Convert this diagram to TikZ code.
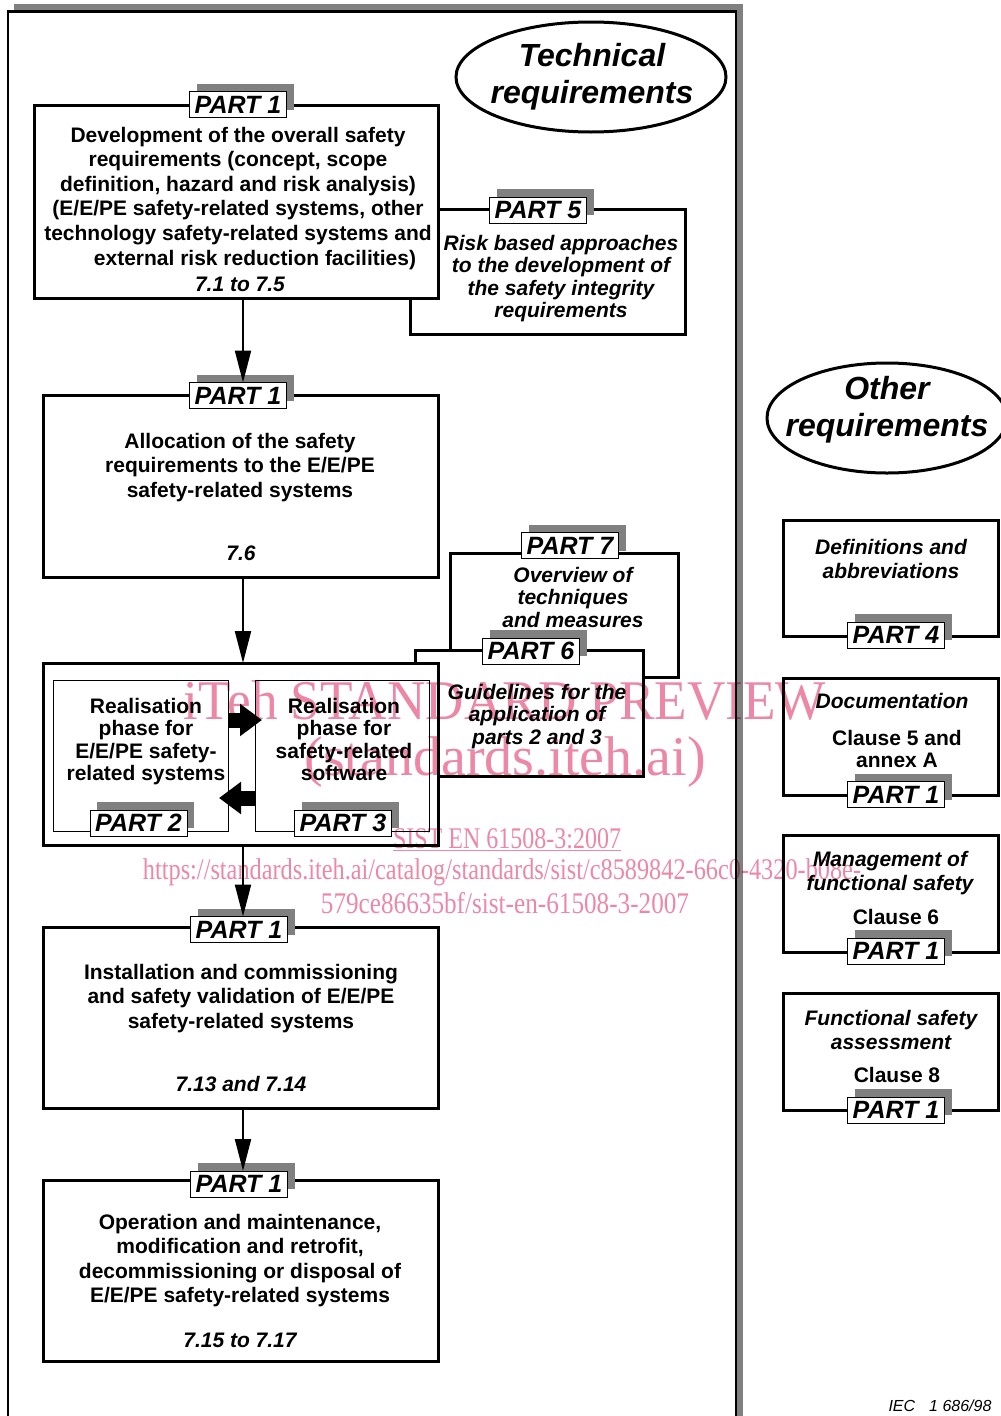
\documentclass[tikz,border=0pt]{standalone}
\usepackage{fontspec}
\setmainfont{Liberation Sans}
\newfontfamily\wmfont{Liberation Serif}
\usetikzlibrary{shapes.geometric,shadows,arrows.meta}
\definecolor{shadowgray}{gray}{0.5}
\definecolor{wmpink}{RGB}{236,135,165}
\begin{document}
\begin{tikzpicture}[x=1pt,y=-1pt,
  bigbox/.style={draw, line width=3pt, fill=white, inner sep=0pt, outer sep=0pt},
  thinbox/.style={draw, line width=1pt, fill=white, inner sep=0pt, outer sep=0pt},
  plbl/.style={draw, line width=1pt, fill=white, inner sep=0pt, outer sep=0pt,
    minimum width=97pt, minimum height=26pt,
    font=\fontsize{25}{25}\selectfont\bfseries\itshape,
    drop shadow={shadow xshift=7pt, shadow yshift=8pt, fill=shadowgray, opacity=1}},
  body/.style={font=\fontsize{21}{24.6}\selectfont\bfseries, align=center, inner sep=0pt, anchor=base},
  rbody/.style={font=\fontsize{21}{22.5}\selectfont\bfseries, align=center, inner sep=0pt, anchor=base},
  ibody/.style={font=\fontsize{21}{22.5}\selectfont\bfseries\itshape, align=center, inner sep=0pt, anchor=base},
  ibodyw/.style={font=\fontsize{21}{24.5}\selectfont\bfseries\itshape, align=center, inner sep=0pt, anchor=base},
  ell/.style={ellipse, draw, line width=3pt, fill=white, inner sep=0pt},
  etext/.style={font=\fontsize{32}{37}\selectfont\bfseries\itshape, align=center, inner sep=0pt, anchor=base},
  conn/.style={line width=2pt, -{Triangle[length=32pt,width=16pt]}},
  blk/.style={line width=15pt, -{Triangle[length=22pt,width=31pt]}},
  wm/.style={text=wmpink, inner sep=0pt}
]
\useasboundingbox (0,0) rectangle (1001,1416);
% outer frame
\fill[shadowgray] (14,4) rectangle (743,11);
\fill[shadowgray] (737,4) rectangle (743,1416);
\draw[line width=2.5pt] (8,1420) -- (8,11.5) -- (736,11.5) -- (736,1420);

% ellipses (text anchors are at the baseline of the last line)
\node[ell, minimum width=270pt, minimum height=110pt] (tech) at (591,77) {};
\node[etext] (techt) at (592,103) {Technical\\requirements};
\node[ell, minimum width=240pt, minimum height=110pt] (other) at (887,418) {};
\node[etext] (othert) at (887,436) {Other\\requirements};

% Part 5 and box A
\node[bigbox, minimum width=275pt, minimum height=125pt] (P5) at (547.5,271.5) {};
\node[plbl] (l5) at (538,210) {PART 5};
\node[ibody] (tP5) at (561,317.5) {Risk based approaches\\to the development of\\the safety integrity\\requirements};
\node[bigbox, minimum width=404pt, minimum height=193pt] (A) at (236,201.5) {};
\node[plbl] (lA) at (238,104.5) {PART 1};
\node[body] (tA) at (238,265) {Development of the overall safety\\requirements (concept, scope\\definition, hazard and risk analysis)\\(E/E/PE safety-related systems, other\\technology safety-related systems and\\\hspace*{34pt}external risk reduction facilities)};
\node[ibody] (nA) at (240,291) {7.1 to 7.5};

% box B
\node[bigbox, minimum width=395pt, minimum height=182pt] (B) at (240.5,486) {};
\node[plbl] (lB) at (238,395.5) {PART 1};
\node[body] (tB) at (240,497.2) {Allocation of the safety\\requirements to the E/E/PE\\safety-related systems};
\node[ibody] (nB) at (241,560) {7.6};

% Part 7 and Part 6
\node[bigbox, minimum width=228pt, minimum height=124pt] (P7) at (564,615) {};
\node[plbl] (l7) at (570,545.5) {PART 7};
\node[ibody] (tP7) at (573,627) {Overview of\\techniques\\and measures};
\node[bigbox, minimum width=228pt, minimum height=126pt] (P6) at (529,713) {};
\node[plbl] (l6) at (531,651) {PART 6};
\node[ibody] (tP6) at (537,744) {Guidelines for the\\application of\\parts 2 and 3};

% box C (realisation)
\node[bigbox, minimum width=395pt, minimum height=182pt] (C) at (240.5,754) {};
\node[thinbox, minimum width=175pt, minimum height=151pt] (rl) at (140.5,755.5) {};
\node[thinbox, minimum width=174pt, minimum height=151pt] (rr) at (342,755.5) {};
\node[rbody] (trl) at (146,780.5) {Realisation\\phase for\\E/E/PE safety-\\related systems};
\node[rbody] (trr) at (344,780.5) {Realisation\\phase for\\safety-related\\software};
\node[plbl] (l2) at (138.5,823) {PART 2};
\node[plbl] (l3) at (343,823) {PART 3};
\draw[blk] ([yshift=35.5pt]rl.east) -- ([xshift=7pt,yshift=35.5pt]rr.west);
\draw[blk] ([yshift=-42.5pt]rr.west) -- ([xshift=-9pt,yshift=-42.5pt]rl.east);

% box D
\node[bigbox, minimum width=395pt, minimum height=181pt] (D) at (240.5,1017.5) {};
\node[plbl] (lD) at (239,929.5) {PART 1};
\node[body] (tD) at (241,1028.2) {Installation and commissioning\\and safety validation of E/E/PE\\safety-related systems};
\node[ibody] (nD) at (241,1091) {7.13 and 7.14};

% box E
\node[bigbox, minimum width=395pt, minimum height=181pt] (E) at (240.5,1270.5) {};
\node[plbl] (lE) at (239,1184) {PART 1};
\node[body] (tE) at (240,1302.8) {Operation and maintenance,\\modification and retrofit,\\decommissioning or disposal of\\E/E/PE safety-related systems};
\node[ibody] (nE) at (240,1347) {7.15 to 7.17};

% right column
\node[bigbox, minimum width=215pt, minimum height=116pt] (R4) at (890.5,578) {};
\node[ibodyw] (t4) at (891,578.5) {Definitions and\\abbreviations};
\node[plbl] (l4) at (896,635) {PART 4};

\node[bigbox, minimum width=215pt, minimum height=117pt] (RD) at (890.5,736.5) {};
\node[ibody] (tRD) at (892,708) {Documentation};
\node[rbody] (cRD) at (897,767.5) {Clause 5 and\\annex A};
\node[plbl] (lRD) at (896,794.5) {PART 1};

\node[bigbox, minimum width=215pt, minimum height=117pt] (RM) at (890.5,893.5) {};
\node[ibodyw] (tRM) at (890,890.5) {Management of\\functional safety};
\node[rbody] (cRM) at (896,924) {Clause 6};
\node[plbl] (lRM) at (896,951) {PART 1};

\node[bigbox, minimum width=215pt, minimum height=117pt] (RF) at (890.5,1051.5) {};
\node[ibodyw] (tRF) at (891,1049.5) {Functional safety\\assessment};
\node[rbody] (cRF) at (897,1082) {Clause 8};
\node[plbl] (lRF) at (896,1110) {PART 1};

% connectors
\coordinate (ax) at (243,0);
\draw[conn] (A.south -| ax) -- (lB.north -| ax);
\draw[conn] (B.south -| ax) -- (C.north -| ax);
\draw[conn] (C.south -| ax) -- (lD.north -| ax);
\draw[conn] (D.south -| ax) -- (lE.north -| ax);

% figure number
\node[font=\fontsize{16}{16}\selectfont\itshape, inner sep=0pt] (iec) at (940,1406) {IEC\hspace*{14pt}1 686/98};

% watermark
\begin{scope}[blend mode=multiply]
\node[wm, font=\wmfont\fontsize{56}{56}\selectfont] (w1) at (505,700) {\scalebox{0.95}[1]{iTeh STANDARD PREVIEW}};
\node[wm, font=\wmfont\fontsize{56}{56}\selectfont] (w2) at (505,762) {(standards.iteh.ai)};
\node[wm, font=\wmfont\fontsize{30}{30}\selectfont] (w3) at (507,840) {\scalebox{0.8}[1]{\underline{SIST EN 61508-3:2007}}};
\node[wm, font=\wmfont\fontsize{30}{30}\selectfont] (w4) at (502,872) {\scalebox{0.81}[1]{https://standards.iteh.ai/catalog/standards/sist/c8589842-66c0-4320-b08e-}};
\node[wm, font=\wmfont\fontsize{30}{30}\selectfont] (w5) at (505,903) {\scalebox{0.84}[1]{579ce86635bf/sist-en-61508-3-2007}};
\end{scope}
\end{tikzpicture}
\end{document}
